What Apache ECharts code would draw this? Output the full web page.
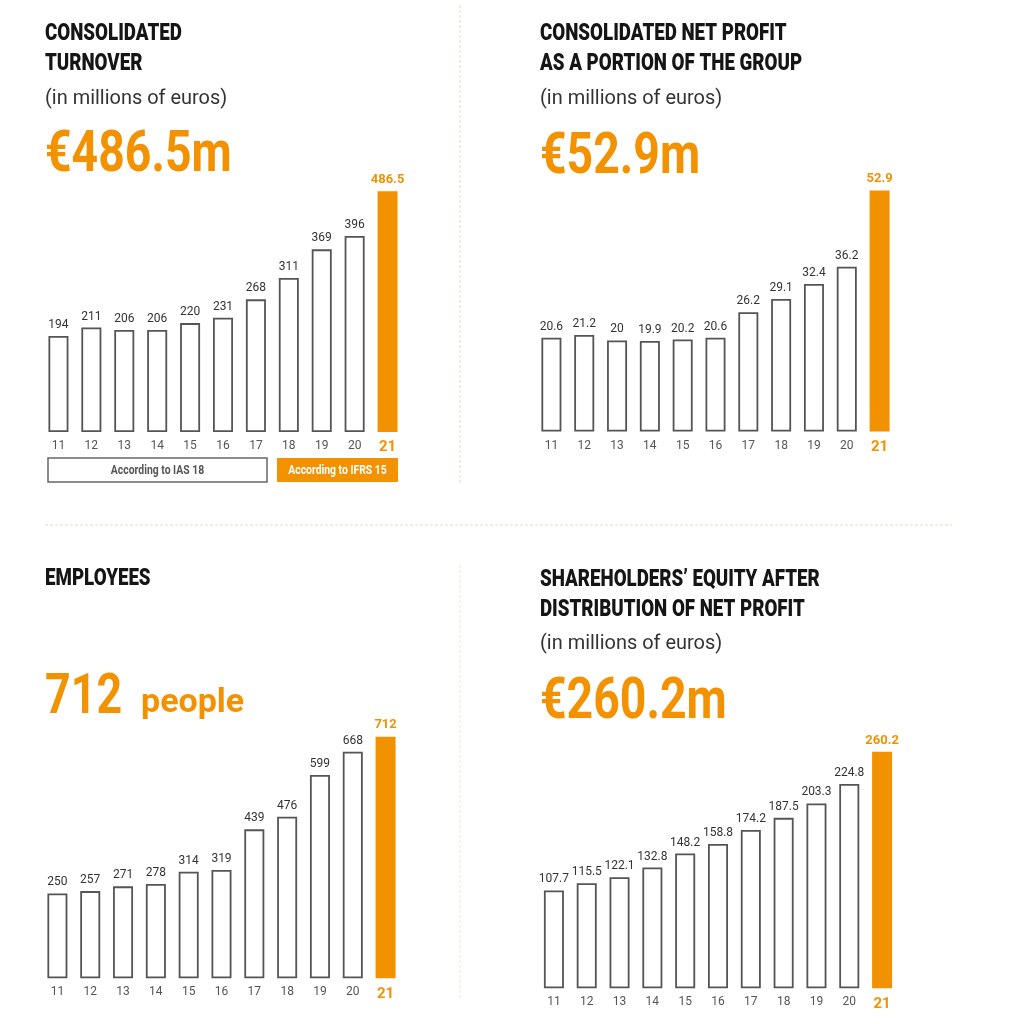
<!DOCTYPE html>
<html>
<head>
<meta charset="utf-8">
<script src="https://cdn.jsdelivr.net/npm/echarts@6/dist/echarts.min.js"></script>
<style>html,body{margin:0;padding:0;background:#fff}#c{width:1024px;height:1024px}</style>
</head>
<body>
<div id="c"></div>
<script>
// ---- data ----
const years = ['11','12','13','14','15','16','17','18','19','20','21'];
const turnover = [194,211,206,206,220,231,268,311,369,396,486.5];
const netProfit = [20.6,21.2,20,19.9,20.2,20.6,26.2,29.1,32.4,36.2,52.9];
const employees = [250,257,271,278,314,319,439,476,599,668,712];
const equity = [107.7,115.5,122.1,132.8,148.2,158.8,174.2,187.5,203.3,224.8,260.2];
const titles = [
  ['CONSOLIDATED','TURNOVER'],
  ['CONSOLIDATED NET PROFIT','AS A PORTION OF THE GROUP'],
  ['EMPLOYEES'],
  ['SHAREHOLDERS\u2019 EQUITY AFTER','DISTRIBUTION OF NET PROFIT']
];
const subtitle = '(in millions of euros)';
const headlines = ['€486.5m','€52.9m','712','€260.2m'];
const headlineUnit = 'people';
const noteLabels = ['According to IAS 18','According to IFRS 15'];

// ---- styles ----
const ORANGE = '#F39200';
const DARK = '#151515';
const ROBOTO = "Roboto, sans-serif";

const chart = echarts.init(document.getElementById('c'), null, {renderer:'canvas'});

const grids = [
  {left:42, width:362, top:184.5, height:247.5},
  {left:535, width:361, top:181, height:250.6},
  {left:41, width:361, top:723.8, height:254.5},
  {left:537.5, width:361, top:738.3, height:250}
];
const maxes = [500, 55, 750, 275];
const series = [turnover, netProfit, employees, equity];

function barData(arr){
  return arr.map((v,i)=> i===arr.length-1 ? {
    value:v,
    itemStyle:{color:ORANGE, borderColor:ORANGE, borderWidth:0},
    label:{color:ORANGE, fontWeight:'bold', fontSize:13}
  } : v);
}

function txt(x, y, text, size, weight, color, sx, align){
  return {
    type:'text', x:x, y:y, scaleX:sx||1, scaleY:1, silent:true,
    style:{text:text, x:0, y:0, fill:color, font: weight+' '+size+'px '+ROBOTO, verticalAlign:'top', align:align||'left'}
  };
}

const graphics = [];
// titles
const tx = [45, 540, 45, 540];
const tTop = [22, 22, 567, 568];
const TSX = 0.78;
titles.forEach((lines,p)=>{
  lines.forEach((l,k)=>{
    graphics.push(txt(tx[p], tTop[p]+k*30, l, 24, '900', DARK, TSX));
  });
});
// subtitles
[[45,88],[540,88],[540,633]].forEach(([x,y])=>{
  graphics.push(txt(x, y, subtitle, 21, 'normal', '#333', 0.95));
});
// headlines
graphics.push(txt(45, 127, headlines[0], 58, 'bold', ORANGE, 0.8));
graphics.push(txt(540, 129, headlines[1], 58, 'bold', ORANGE, 0.8));
graphics.push(txt(45, 671, headlines[2], 56, 'bold', ORANGE, 0.8));
graphics.push(txt(141, 686, headlineUnit, 34, 'bold', ORANGE, 1.0));
graphics.push(txt(540, 674, headlines[3], 58, 'bold', ORANGE, 0.8));

// note boxes
graphics.push({type:'rect', silent:true, shape:{x:48, y:458, width:219, height:24},
  style:{fill:'#fff', stroke:'#666', lineWidth:1.5}});
graphics.push({type:'text', silent:true, x:157.5, y:471, scaleX:0.8,
  style:{text:noteLabels[0], x:0, y:0, fill:'#555', font:"bold 13px "+ROBOTO, align:'center', verticalAlign:'middle'}});
graphics.push({type:'rect', silent:true, shape:{x:277, y:458, width:121, height:24},
  style:{fill:ORANGE}});
graphics.push({type:'text', silent:true, x:337.5, y:471, scaleX:0.8,
  style:{text:noteLabels[1], x:0, y:0, fill:'#fff', font:"bold 13px "+ROBOTO, align:'center', verticalAlign:'middle'}});

// dividers
const DIV = '#efe9cf';
graphics.push({type:'line', silent:true, shape:{x1:460,y1:5,x2:460,y2:485}, style:{stroke:DIV, lineWidth:1.5, lineDash:[3,2]}});
graphics.push({type:'line', silent:true, shape:{x1:460,y1:565,x2:460,y2:1000}, style:{stroke:'#f4f0e0', lineWidth:1.5, lineDash:[3,2]}});
graphics.push({type:'line', silent:true, shape:{x1:45,y1:525,x2:952,y2:525}, style:{stroke:DIV, lineWidth:1.5, lineDash:[3,2]}});

const option = {
  backgroundColor:'#fff',
  animation:false,
  grid: grids.map(g=>Object.assign({containLabel:false}, g)),
  xAxis: grids.map((g,i)=>({
    type:'category', gridIndex:i, data:years,
    axisLine:{show:false}, axisTick:{show:false},
    axisLabel:{
      interval:0, margin:8, color:'#555', fontSize:12, fontFamily:ROBOTO,
      formatter:(v,idx)=> idx===years.length-1 ? '{h|'+v+'}' : v,
      rich:{h:{color:ORANGE, fontWeight:'bold', fontSize:15, fontFamily:ROBOTO}}
    }
  })),
  yAxis: grids.map((g,i)=>({
    type:'value', gridIndex:i, min:0, max:maxes[i], show:false, splitLine:{show:false}
  })),
  series: series.map((arr,i)=>({
    type:'bar', xAxisIndex:i, yAxisIndex:i, barWidth:20,
    data: barData(arr),
    itemStyle:{color:'#fff', borderColor:'#555', borderWidth:1.8},
    label:{show:true, position:'top', distance:5, color:'#333', fontSize:12, fontFamily:ROBOTO}
  })),
  graphic: graphics
};
chart.setOption(option);
</script>
</body>
</html>
